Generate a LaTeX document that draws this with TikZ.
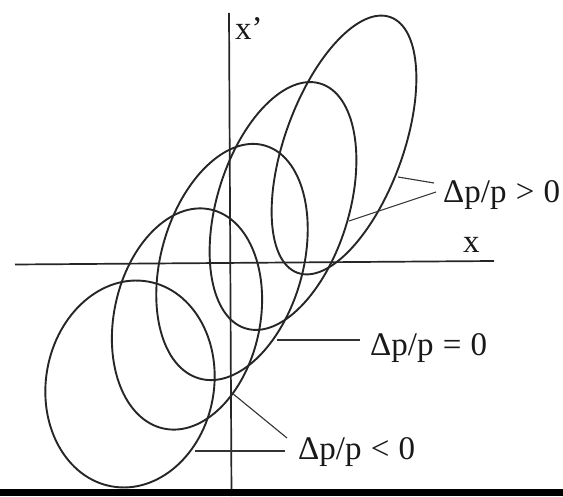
\documentclass[tikz,border=0pt]{standalone}
\usepackage{fontspec}
\setmainfont{Liberation Serif}
\begin{document}
\begin{tikzpicture}[x=1pt,y=1pt,
  ell/.style={draw=black!85,line width=1.9pt},
  axisline/.style={draw=black!85,line width=1.7pt},
  leader/.style={draw=black!80,line width=1.1pt},
  lbl/.style={inner sep=0pt,anchor=base west,font=\fontsize{33}{36}\selectfont,text=black!90}]
\fill[white] (0,0) rectangle (563,496);
\useasboundingbox (0,0) rectangle (563,496);
% axes
\coordinate (vtop) at (229,483);
\coordinate (vbot) at (231.5,0);
\coordinate (hl) at (15,231.5);
\coordinate (hr) at (494,235);
\draw[axisline] (vtop) -- (vbot);
\draw[axisline] (hl) -- (hr);
% ellipses (chromatic family)
\draw[ell,rotate around={-10:(130,112)}] (130,112) ellipse [x radius=84, y radius=104];
\draw[ell,rotate around={-12:(187,177)}] (187,177) ellipse [x radius=73, y radius=112];
\draw[ell,rotate around={-15.6:(232,234)}] (232,234) ellipse [x radius=71, y radius=121];
\draw[ell,rotate around={-17:(283,290)}] (283,290) ellipse [x radius=66, y radius=128];
\draw[ell,rotate around={-20:(344,351)}] (344,351) ellipse [x radius=59, y radius=136];
% labels
\node[lbl] (xp) at (235,456) {x’};
\node[lbl] (xl) at (463,243) {x};
\node[lbl] (lpos) at (443,293) {Δp/p\hspace{0.28em}>\hspace{0.28em}0};
\node[lbl] (lzero) at (370,140) {Δp/p\hspace{0.28em}=\hspace{0.28em}0};
\node[lbl] (lneg) at (298,37) {Δp/p\hspace{0.28em}<\hspace{0.28em}0};
% leader end points
\coordinate (pa) at (398,319);
\coordinate (pae) at (434,313);
\coordinate (pb) at (349,275);
\coordinate (pbe) at (436,304);
\coordinate (za) at (277,156);
\coordinate (zae) at (360,156);
\coordinate (na) at (232,103);
\coordinate (nae) at (287,58);
\coordinate (nb) at (195,45);
\coordinate (nbe) at (285,45);
\draw[leader] (pa) -- (pae);
\draw[leader] (pb) -- (pbe);
\draw[leader] (za) -- (zae);
\draw[leader] (na) -- (nae);
\draw[leader] (nb) -- (nbe);
% black band at the bottom
\fill[black] (0,0) rectangle (563,7);
\end{tikzpicture}
\end{document}
